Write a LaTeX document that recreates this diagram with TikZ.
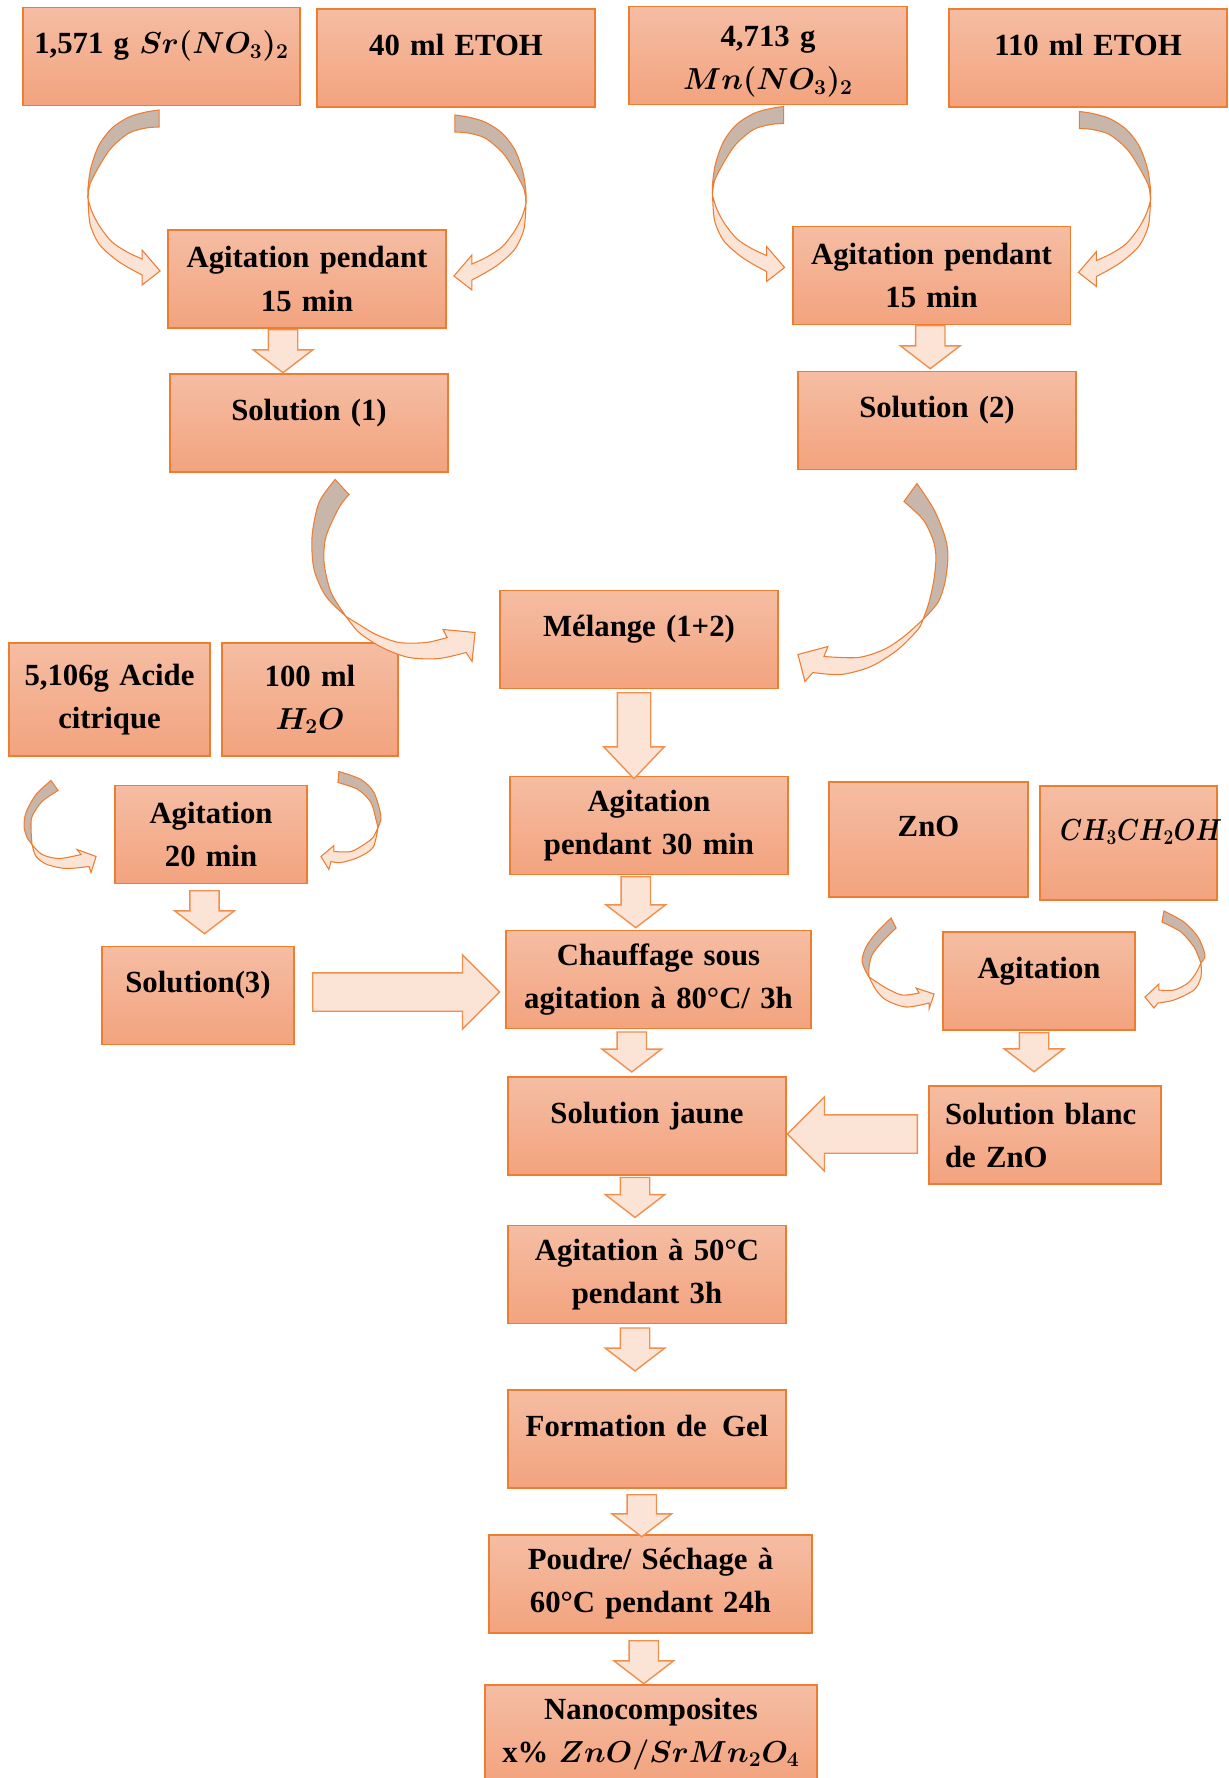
\documentclass[tikz,border=0pt]{standalone}
\usepackage{fontspec}
\setmainfont{Liberation Serif}
\usepackage{graphicx}
\usepackage{tikz}
\usetikzlibrary{calc,shapes.arrows}
\definecolor{boxedge}{HTML}{ED7D31}
\definecolor{boxtop}{HTML}{F5BDA3}
\definecolor{boxbottom}{HTML}{F3A37E}
\definecolor{arrowfill}{HTML}{FBE3D6}
\definecolor{arrowedge}{HTML}{F0904F}
\definecolor{ribbonback}{HTML}{C9B6AB}

% twisted ribbon arrow, tip at the local origin side (west anchor of the target)
\newcommand{\twistribbon}{%
\filldraw[backface] plot[smooth] coordinates {(-8,-169) (-21,-167) (-38,-162) (-55,-151) (-68,-134) (-76,-112) (-79,-92) (-79,-80)}
    -- plot[smooth] coordinates {(-79,-80) (-77,-95) (-66,-116) (-55,-132) (-38,-146) (-21,-151) (-8,-152)} -- cycle;
\filldraw[frontface] plot[smooth] coordinates {(-79,-80) (-77,-55) (-68,-35) (-52,-20) (-38,-11) (-25,-4)}
    -- (-25,6) -- (-7,-8) -- (-25,-29)
    -- plot[smooth] coordinates {(-25,-20) (-40,-27) (-55,-37) (-67,-52) (-75,-67) (-79,-80)} -- cycle;
}

\begin{document}
\begin{tikzpicture}[
    x=0.02cm, y=-0.02cm,
    every node/.style={font=\fontsize{17.5}{24.5}\selectfont\bfseries\boldmath},
    box/.style={draw=boxedge, line width=1.1pt, top color=boxtop, bottom color=boxbottom,
        inner sep=0pt, align=center, minimum width=5.56cm, text width=5.56cm, minimum height=1.96cm},
    boxw/.style={minimum width=#1, text width=#1},
    oneline/.style={text height=11pt, text depth=14pt},
    blockarrow/.style={single arrow, draw=arrowedge, fill=arrowfill, line width=0.8pt,
        inner xsep=0pt, anchor=tail},
    downarrow/.style={blockarrow, inner ysep=0.28cm, single arrow head extend=0.3cm,
        single arrow tip angle=105, rotate=-90},
    sidearrow/.style={blockarrow, inner ysep=0.37cm, single arrow head extend=0.36cm,
        single arrow tip angle=90},
    backface/.style={fill=ribbonback, draw=boxedge, line width=0.6pt},
    frontface/.style={fill=arrowfill, draw=boxedge, line width=0.6pt}
]
\path[use as bounding box, fill=white] (0,0) rectangle (1229,1778);

%====================================================
% STEP BOXES
%====================================================
\node[box, boxw=5.54cm, oneline] (srnit) at (161.5,56.5) {1,571 g $Sr(NO_3)_2$};
\node[box, oneline] (etoha) at (456,58) {40 ml ETOH};
\node[box, text height=18.5pt] (mnnit) at (768,55.5) {4,713 g\\ $Mn(NO_3)_2$};
\node[box, oneline] (etohb) at (1088,58) {110 ml ETOH};
\node[box] (agita) at (307,279) {Agitation pendant\\ 15 min};
\node[box] (agitb) at (931.5,275.5) {Agitation pendant\\ 15 min};
\node[box, oneline] (solone) at (309,423) {Solution (1)};
\node[box, oneline] (soltwo) at (937,420.5) {Solution (2)};
\node[box, oneline] (melange) at (639,639.5) {Mélange (1+2)};
\node[box, boxw=4.02cm, minimum height=2.26cm] (acide) at (109.5,699.5) {5,106g Acide\\ citrique};
\node[box, boxw=3.52cm, minimum height=2.26cm] (water) at (310,699.5) {100 ml\\ $H_2O$};
\node[box, boxw=3.84cm] (agitc) at (211,834.5) {Agitation\\ 20 min};
\node[box, boxw=3.84cm, oneline] (solthree) at (198,995.5) {Solution(3)};
\node[box] (agitd) at (649,825.5) {Agitation\\ pendant 30 min};
\node[box, boxw=3.98cm, minimum height=2.3cm, oneline] (zno) at (928.5,839.5) {ZnO};
\node[box, minimum width=3.54cm, text width=2.74cm, inner xsep=0.4cm, minimum height=2.28cm, oneline]
    (ethanol) at (1128.5,843) {\scalebox{0.82}[1]{$CH_3CH_2OH$}};
\node[box, boxw=3.84cm, oneline] (agite) at (1039,981) {Agitation};
\node[box, boxw=6.1cm] (chauff) at (658.5,979.5) {Chauffage sous\\ agitation à 80°C/ 3h};
\node[box, minimum width=4.64cm, text width=4cm, inner xsep=0.32cm, align=left]
    (blanc) at (1045,1135) {Solution blanc\\ de ZnO};
\node[box, oneline] (jaune) at (647,1126) {Solution jaune};
\node[box] (agitf) at (647,1274.5) {Agitation à 50°C\\ pendant 3h};
\node[box, oneline] (gel) at (647,1439) {Formation de\enspace Gel};
\node[box, boxw=6.46cm] (poudre) at (650.5,1584) {Poudre/ Séchage à\\ 60°C pendant 24h};
\node[box, boxw=6.64cm] (nano) at (651,1734) {Nanocomposites\\ x\% $ZnO/SrMn_2O_4$};

%====================================================
% BLOCK ARROWS
%====================================================
\node[downarrow, minimum height=0.86cm] (a1) at ($(agita.south)!0.5!(solone.north)+(-25,-22)$) {};
\node[downarrow, minimum height=0.86cm] (a2) at ($(agitb.south)!0.5!(soltwo.north)+(-4,-23)$) {};
\node[downarrow, minimum height=0.86cm] (a3) at ($(agitc.south)!0.5!(solthree.north)+(0,-25)$) {};
\node[downarrow, minimum height=1.72cm, inner ysep=0.32cm, single arrow head extend=0.27cm,
    single arrow tip angle=87] (a4) at ($(melange.south)!0.5!(agitd.north)+(-10,-40.5)$) {};
\node[downarrow, minimum height=1.02cm] (a5) at ($(agitd.south)!0.5!(chauff.north)+(-18,-26.5)$) {};
\node[downarrow, minimum height=0.78cm] (a6) at ($(agite.south)!0.5!(blanc.north)+(-8,-26)$) {};
\node[downarrow, minimum height=0.8cm] (a7) at ($(chauff.south)!0.5!(jaune.north)+(-21,-21.5)$) {};
\node[downarrow, minimum height=0.8cm] (a8) at ($(jaune.south)!0.5!(agitf.north)+(-12,-23.5)$) {};
\node[downarrow, minimum height=0.86cm] (a9) at ($(agitf.south)!0.5!(gel.north)+(-12,-29.5)$) {};
\node[downarrow, minimum height=0.84cm] (a10) at ($(gel.south)!0.5!(poudre.north)+(-7,-17.5)$) {};
\node[downarrow, minimum height=0.86cm] (a11) at ($(poudre.south)!0.5!(nano.north)+(-7,-19)$) {};
\node[sidearrow, minimum height=3.74cm] (a12) at ($(solthree.east)!0.5!(chauff.west)+(-88,4.5)$) {};
\node[sidearrow, minimum height=2.6cm, rotate=180] (a13) at ($(blanc.west)!0.5!(jaune.east)+(60.5,3.5)$) {};

%====================================================
% CURVED RIBBONS
%====================================================
\begin{scope}[shift={(agita.west)}]
\twistribbon
\end{scope}
\begin{scope}[shift={($(agita.east)+(0,5)$)}, xscale=-1]
\twistribbon
\end{scope}
\begin{scope}[shift={(agitb.west)}]
\twistribbon
\end{scope}
\begin{scope}[shift={($(agitb.east)+(0,5)$)}, xscale=-1]
\twistribbon
\end{scope}

% solution (1) -> melange
\begin{scope}[shift={(melange.west)}]
\filldraw[backface] plot[smooth] coordinates {(-164,-160) (-180,-137) (-187,-103) (-185,-70) (-173,-43) (-153,-23)}
    -- plot[smooth] coordinates {(-153,-23) (-168,-47) (-175,-77) (-173,-103) (-160,-132) (-150,-145)} -- cycle;
\filldraw[frontface] plot[smooth] coordinates {(-153,-23) (-140,-7) (-117,8) (-90,18) (-60,19) (-33,13)}
    -- (-27,22) -- (-24,-7) -- (-56,-10)
    -- plot[smooth] coordinates {(-52,-2) (-73,3) (-100,3) (-123,-5) (-140,-15) (-153,-23)} -- cycle;
\end{scope}

% solution (2) -> melange
\begin{scope}[shift={(melange.east)}]
\filldraw[backface] plot[smooth] coordinates {(138,-156) (155,-130) (166,-103) (169,-83) (166,-57) (159,-37) (144,-20)}
    -- plot[smooth] coordinates {(144,-20) (150,-37) (155,-60) (157,-83) (154,-100) (144,-120) (125,-138)} -- cycle;
\filldraw[frontface] plot[smooth] coordinates {(144,-20) (139,-10) (119,10) (92,27) (62,35) (34,33)}
    -- (26,42) -- (19,15) -- (49,7)
    -- plot[smooth] coordinates {(45,17) (79,18) (105,10) (125,-3) (144,-20)} -- cycle;
\end{scope}

% acide / eau -> agitation 20 min
\begin{scope}[shift={(agitc.west)}]
\filldraw[backface] plot[smooth] coordinates {(-63,-54) (-78,-40) (-88,-22) (-90,-8) (-87,3) (-82,10)}
    -- plot[smooth] coordinates {(-82,10) (-83,-5) (-82,-18) (-72,-33) (-56,-44)} -- cycle;
\filldraw[frontface] plot[smooth] coordinates {(-82,10) (-78,22) (-67,30) (-48,34) (-25,32)}
    -- (-23,38) -- (-18,22) -- (-37,15)
    -- plot[smooth] coordinates {(-33,20) (-55,24) (-72,20) (-82,10)} -- cycle;
\end{scope}
\begin{scope}[shift={(agitc.east)}]
\filldraw[backface] plot[smooth] coordinates {(31,-63) (53,-55) (66,-42) (73,-18) (70,-7)}
    -- plot[smooth] coordinates {(70,-7) (68,-15) (63,-32) (50,-45) (30,-52)} -- cycle;
\filldraw[frontface] plot[smooth] coordinates {(70,-7) (65,13) (50,23) (33,28) (23,27)}
    -- (21,35) -- (13,22) -- (26,11)
    -- plot[smooth] coordinates {(26,17) (43,17) (56,10) (65,3) (70,-7)} -- cycle;
\end{scope}

% ZnO / ethanol -> agitation
\begin{scope}[shift={(agite.west)}]
\filldraw[backface] plot[smooth] coordinates {(-51,-63) (-66,-48) (-76,-34) (-80,-21) (-77,-11) (-73,-4)}
    -- plot[smooth] coordinates {(-73,-4) (-73,-14) (-70,-26) (-60,-39) (-46,-53)} -- cycle;
\filldraw[frontface] plot[smooth] coordinates {(-73,-4) (-66,9) (-56,19) (-36,26) (-13,22)}
    -- (-13,28) -- (-8,13) -- (-26,7)
    -- plot[smooth] coordinates {(-23,12) (-40,14) (-56,7) (-73,-4)} -- cycle;
\end{scope}
\begin{scope}[shift={(agite.east)}]
\filldraw[backface] plot[smooth] coordinates {(28,-70) (48,-59) (62,-44) (69,-26) (65,-18)}
    -- plot[smooth] coordinates {(65,-18) (63,-23) (58,-34) (45,-49) (26,-59)} -- cycle;
\filldraw[frontface] plot[smooth] coordinates {(65,-18) (65,-4) (58,9) (38,19) (22,22)}
    -- (18,27) -- (9,16) -- (23,3)
    -- plot[smooth] coordinates {(23,9) (38,9) (52,2) (60,-8) (65,-18)} -- cycle;
\end{scope}
\end{tikzpicture}
\end{document}
